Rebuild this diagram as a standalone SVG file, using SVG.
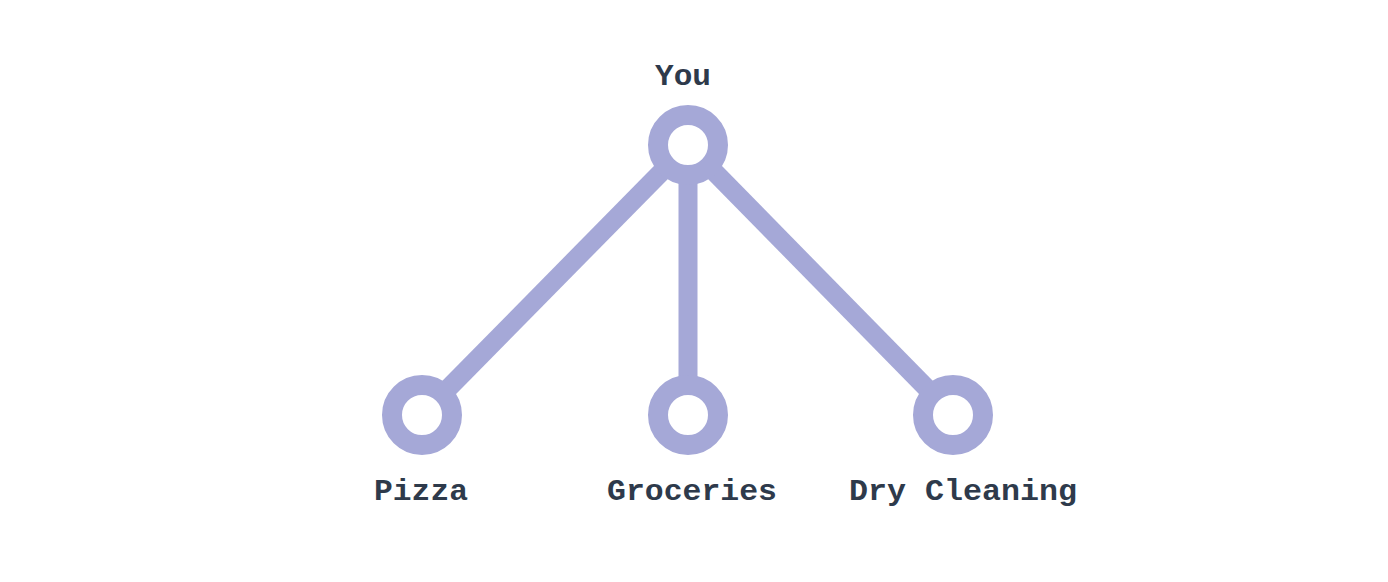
<svg xmlns="http://www.w3.org/2000/svg" width="1388" height="582" viewBox="0 0 1388 582">
<style>
.edge{stroke:#a5a8d7;stroke-width:19;fill:none}
.ring{stroke:#a5a8d7;stroke-width:20;fill:#ffffff}
.lbl{font-family:"Liberation Mono","DejaVu Sans Mono",monospace;font-weight:bold;font-size:30px;fill:#2e3a4b;text-anchor:middle}
</style>
<rect width="1388" height="582" fill="#ffffff"/>
<g id="connectors">
<line class="edge" x1="688" y1="145" x2="422" y2="415"/>
<line class="edge" x1="688" y1="145" x2="688" y2="415"/>
<line class="edge" x1="688" y1="145" x2="953" y2="415"/>
</g>
<g id="you"><circle class="ring" cx="688" cy="145" r="30"/><text class="lbl" x="683" y="85" textLength="56" lengthAdjust="spacingAndGlyphs">You</text></g>
<g id="pizza"><circle class="ring" cx="422" cy="415" r="30"/><text class="lbl" x="421" y="500" textLength="94" lengthAdjust="spacingAndGlyphs">Pizza</text></g>
<g id="groceries"><circle class="ring" cx="688" cy="415" r="30"/><text class="lbl" x="692" y="500" textLength="170" lengthAdjust="spacingAndGlyphs">Groceries</text></g>
<g id="drycleaning"><circle class="ring" cx="953" cy="415" r="30"/><text class="lbl" x="963" y="500" textLength="228" lengthAdjust="spacingAndGlyphs">Dry Cleaning</text></g>
</svg>
